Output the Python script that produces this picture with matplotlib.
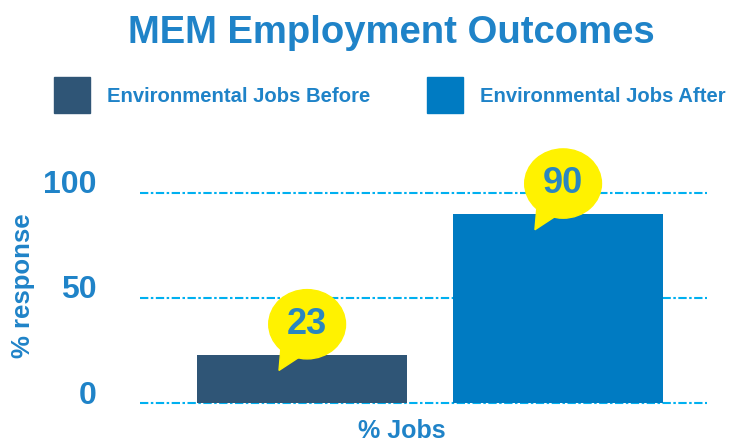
import matplotlib.pyplot as plt
from matplotlib.patches import Ellipse, Polygon, Rectangle
from matplotlib.transforms import ScaledTranslation

plt.rcParams['font.family'] = ['Liberation Sans', 'DejaVu Sans']

# data
categories = ['Environmental Jobs Before', 'Environmental Jobs After']
values = [23, 90]
bar_colors = ['#2f5576', '#007bc2']
yticks = [0, 50, 100]

text_blue = '#1f83c8'
grid_blue = '#00b0f0'
bubble_yellow = '#fff200'

fig = plt.figure(figsize=(7.42, 4.43), dpi=100)
ax = fig.add_axes([140 / 742, 40 / 443, 570 / 742, 210 / 443])

x = [0, 1]
ax.bar(x, values, width=0.82, color=bar_colors, zorder=2)
ax.set_xlim(-0.633, 1.594)
ax.set_ylim(0, 100)

# dashed gridlines
for t in yticks:
    ax.axhline(t, color=grid_blue, lw=1.5, ls=(0, (4, 1.2, 1.2, 1.2)),
               clip_on=False, zorder=1, xmax=0.995)

for s in ax.spines.values():
    s.set_visible(False)
ax.set_xticks([])
ax.set_yticks(yticks)
ax.set_yticklabels([str(t) for t in yticks], fontsize=23, fontweight='bold',
                   color=text_blue)
ax.tick_params(axis='y', length=0, pad=31)
for lab in ax.get_yticklabels():
    lab.set_transform(lab.get_transform() + ScaledTranslation(0, 11 / 100, fig.dpi_scale_trans))

ax.set_ylabel('% response', fontsize=18.5, fontweight='bold', color=text_blue)
ax.yaxis.set_label_coords(-0.184, 0.56)
ax.set_xlabel('% Jobs', fontsize=18, fontweight='bold', color=text_blue)
ax.xaxis.set_label_coords(0.46, -0.075)

# speech bubbles
for xi, v in zip(x, values):
    cx, cy = xi + 0.02, v + 14.5
    tail = Polygon([(cx - 0.11, v - 7.5), (cx - 0.10, cy - 8), (cx - 0.01, cy - 14)],
                   closed=True, color=bubble_yellow, zorder=3, clip_on=False)
    ax.add_patch(tail)
    ax.add_patch(Ellipse((cx, cy), 0.30, 33, color=bubble_yellow, zorder=3, clip_on=False))
    ax.text(cx, cy, str(v), ha='center', va='center', fontsize=26,
            fontweight='bold', color='#2a86c0', zorder=4)

# title
fig.text(391 / 742, 1 - 33 / 443, 'MEM Employment Outcomes', ha='center', va='center',
         fontsize=27.5, fontweight='bold', color=text_blue)

# legend
leg_x = [54, 427]
for lx, lab, c in zip(leg_x, categories, bar_colors):
    fig.patches.append(Rectangle((lx / 742, 1 - 113 / 443), 36 / 742, 36 / 443,
                                 transform=fig.transFigure, color=c))
    fig.text((lx + 53) / 742, 1 - 97 / 443, lab, ha='left', va='center',
             fontsize=14.6, fontweight='bold', color=text_blue)

fig.savefig('out.png', dpi=100)
